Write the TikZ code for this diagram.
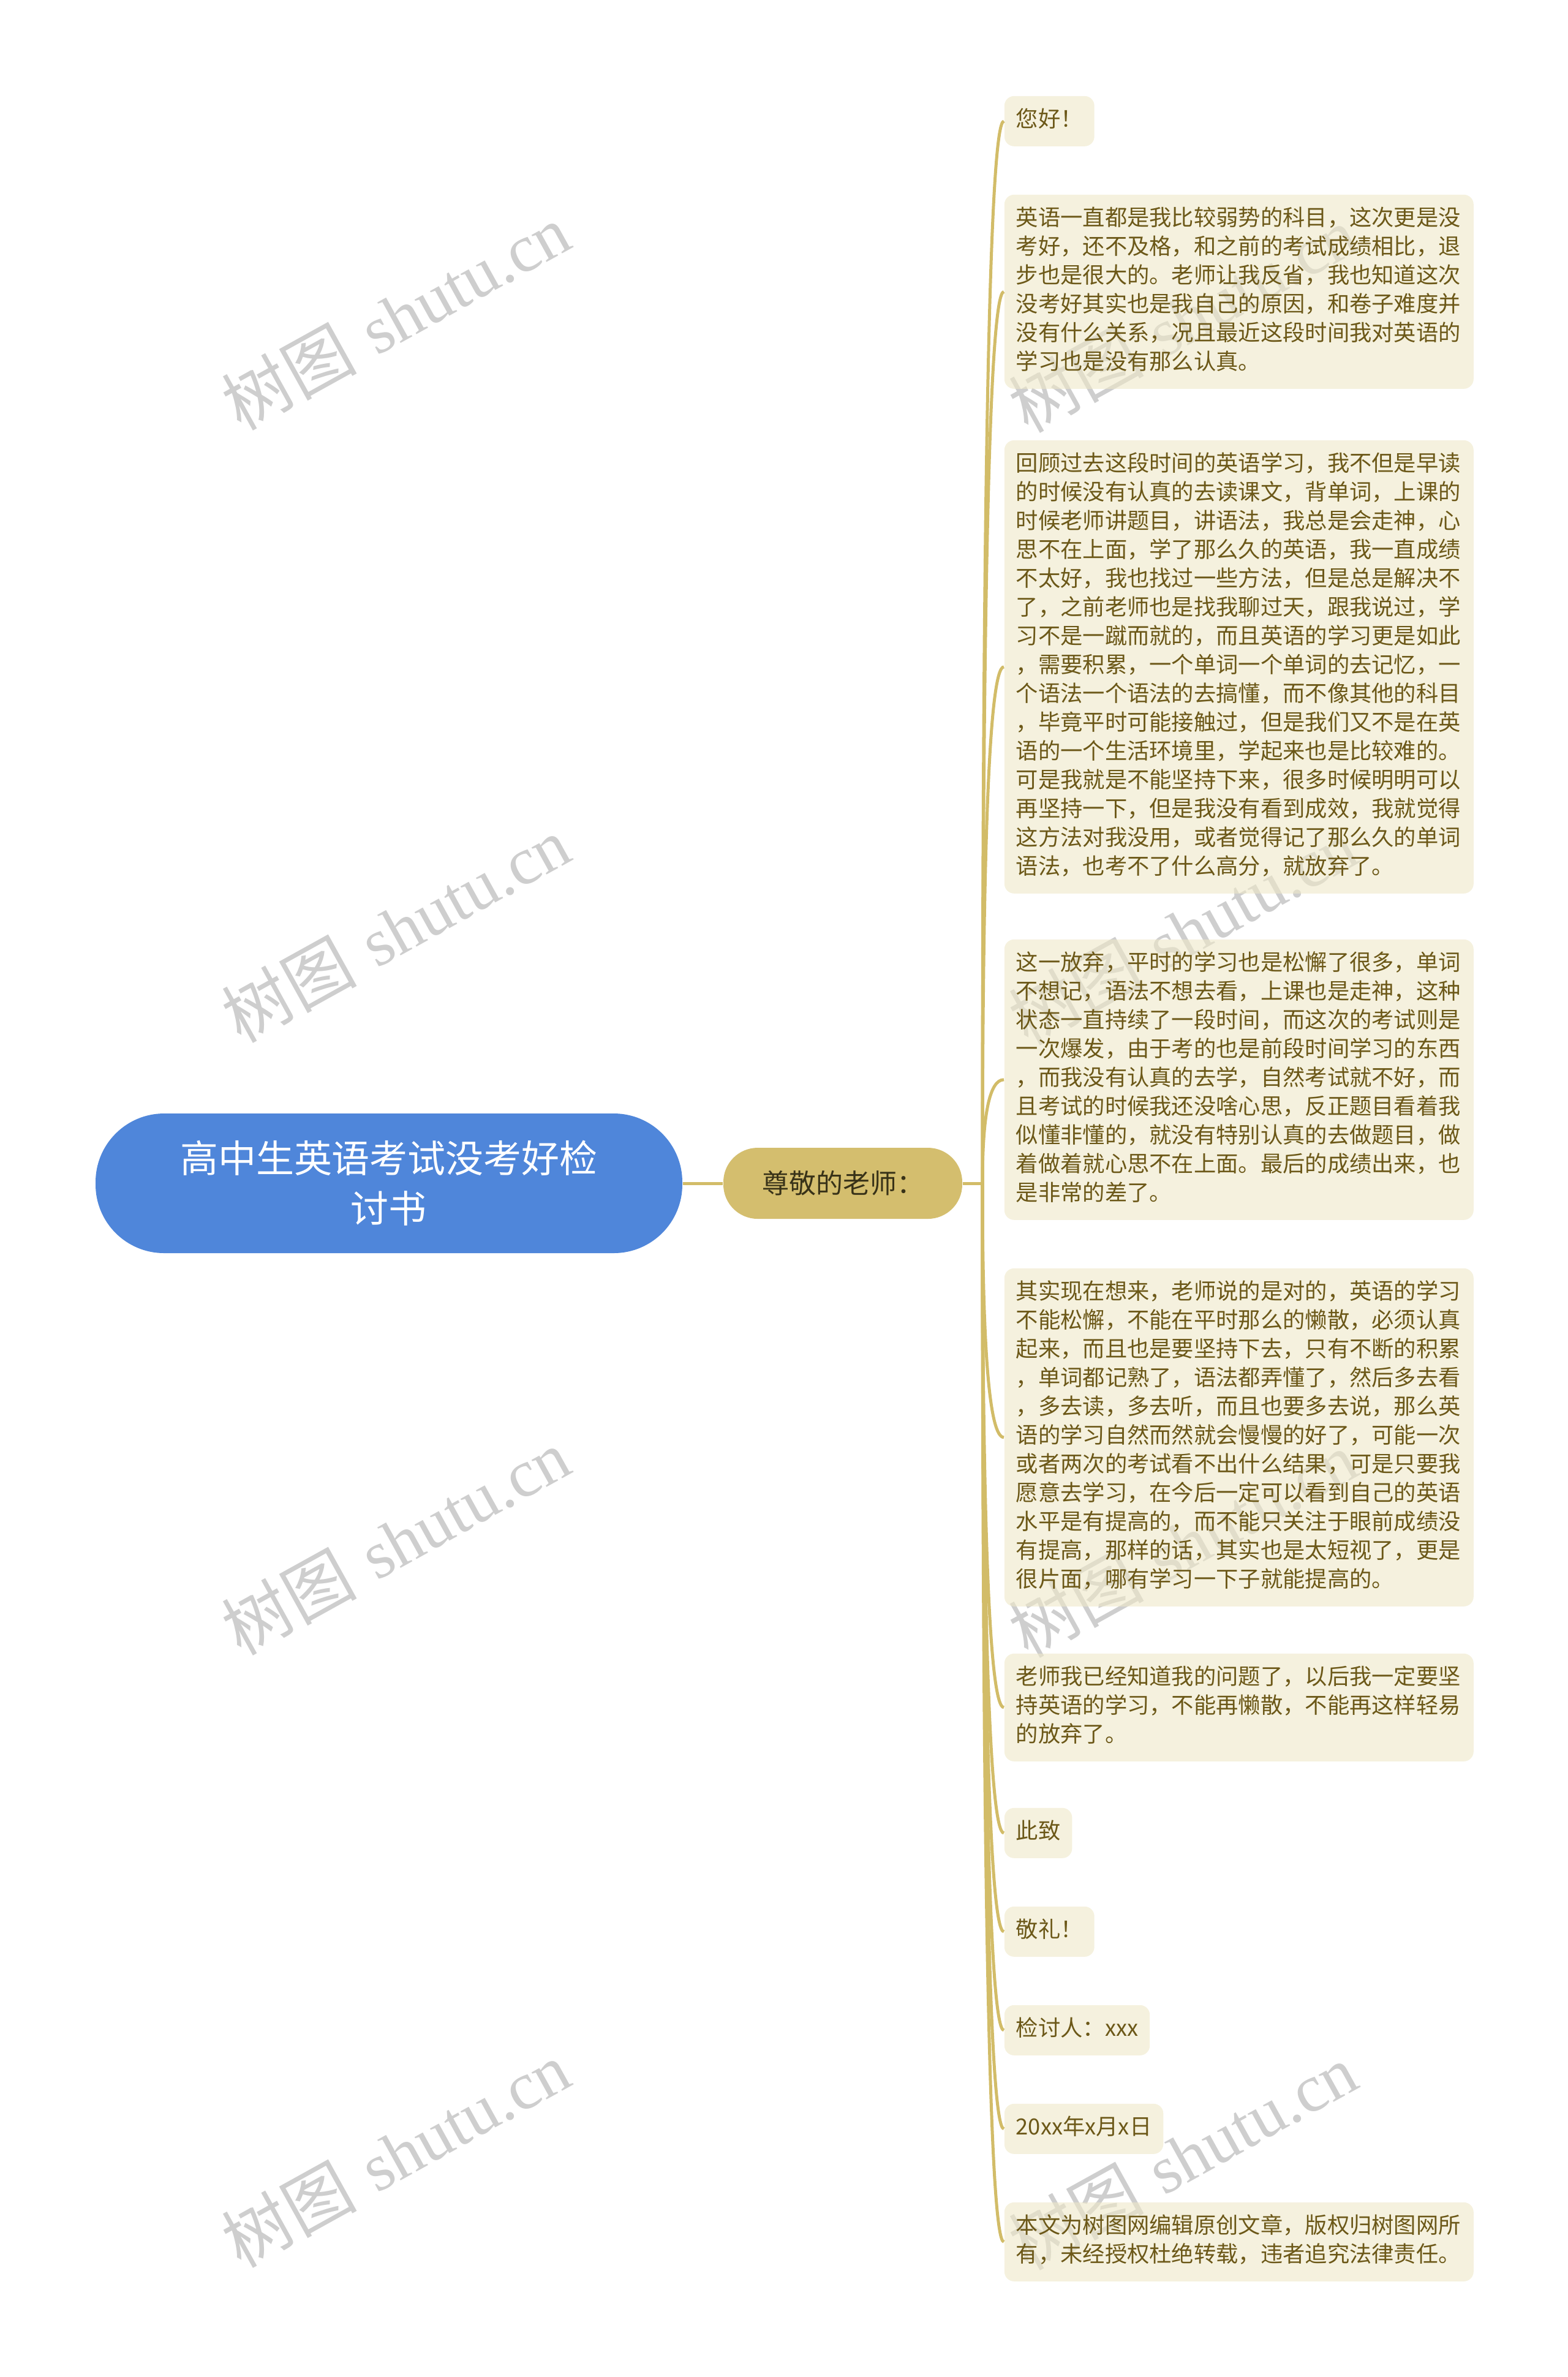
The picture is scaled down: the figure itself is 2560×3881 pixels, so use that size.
\documentclass[tikz,border=0pt]{standalone}
\usepackage{fontspec}
\newfontfamily\cjk{Noto Sans CJK SC}
\newfontfamily\wmlatin{Liberation Serif}
\usetikzlibrary{calc}
\definecolor{rootblue}{RGB}{79,134,218}
\definecolor{gold}{RGB}{212,190,110}
\definecolor{goldline}{RGB}{210,188,104}
\definecolor{leaffill}{RGB}{238,232,200}
\definecolor{leaftext}{RGB}{108,88,24}
\definecolor{branchtext}{RGB}{56,50,24}
\definecolor{wmgray}{RGB}{206,206,206}
\begin{document}
\begin{tikzpicture}[x=0.25pt,y=-0.25pt,
  conn/.style={draw=goldline, line width=1.25pt},
  wm/.style={text=wmgray, inner sep=0pt, rotate=29, font=\fontsize{27.5pt}{30pt}\selectfont},
  rootnode/.style={fill=rootblue, text=white, rounded corners=28pt, minimum width=239.5pt,
    minimum height=57pt, align=center, inner sep=0pt, font=\cjk\fontsize{15.5pt}{20.5pt}\selectfont},
  branchnode/.style={fill=gold, text=branchtext, rounded corners=14pt, minimum width=97.5pt,
    minimum height=29pt, inner sep=0pt, font=\cjk\fontsize{11pt}{13pt}\selectfont},
  leafbox/.style={fill=leaffill, fill opacity=0.6, text opacity=1, rounded corners=4pt,
    inner xsep=4.75pt, inner ysep=4.375pt, anchor=north west, text=leaftext,
    font=\cjk\fontsize{9.075pt}{11.75pt}\selectfont,
    execute at begin node=\strut, execute at end node=\strut},
  wideleaf/.style={leafbox, text width=182pt, align=left}]
\useasboundingbox (0,0) rectangle (2560,3881);
% watermarks
\node[wm] (w1) at (646,517) {{\cjk 树图} {\wmlatin shutu.cn}};
\node[wm] (w2) at (646,1517) {{\cjk 树图} {\wmlatin shutu.cn}};
\node[wm] (w3) at (646,2517) {{\cjk 树图} {\wmlatin shutu.cn}};
\node[wm] (w4) at (646,3517) {{\cjk 树图} {\wmlatin shutu.cn}};
\node[wm] (w5) at (1931,521) {{\cjk 树图} {\wmlatin shutu.cn}};
\node[wm] (w6) at (1931,1521) {{\cjk 树图} {\wmlatin shutu.cn}};
\node[wm] (w7) at (1931,2521) {{\cjk 树图} {\wmlatin shutu.cn}};
\node[wm] (w8) at (1931,3521) {{\cjk 树图} {\wmlatin shutu.cn}};
% nodes
\node[rootnode] (root) at (635,1932) {高中生英语考试没考好检\\讨书};
\node[branchnode] (br) at (1376,1932) {尊敬的老师：};
\coordinate (trunk) at (1604,1932);
\node[leafbox] (l1) at (1639,156) {您好！};
\node[wideleaf] (l2) at (1639,317) {英语一直都是我比较弱势的科目，这次更是没\\考好，还不及格，和之前的考试成绩相比，退\\步也是很大的。老师让我反省，我也知道这次\\没考好其实也是我自己的原因，和卷子难度并\\没有什么关系，况且最近这段时间我对英语的\\学习也是没有那么认真。};
\node[wideleaf] (l3) at (1639,718) {回顾过去这段时间的英语学习，我不但是早读\\的时候没有认真的去读课文，背单词，上课的\\时候老师讲题目，讲语法，我总是会走神，心\\思不在上面，学了那么久的英语，我一直成绩\\不太好，我也找过一些方法，但是总是解决不\\了，之前老师也是找我聊过天，跟我说过，学\\习不是一蹴而就的，而且英语的学习更是如此\\，需要积累，一个单词一个单词的去记忆，一\\个语法一个语法的去搞懂，而不像其他的科目\\，毕竟平时可能接触过，但是我们又不是在英\\语的一个生活环境里，学起来也是比较难的。\\可是我就是不能坚持下来，很多时候明明可以\\再坚持一下，但是我没有看到成效，我就觉得\\这方法对我没用，或者觉得记了那么久的单词\\语法，也考不了什么高分，就放弃了。};
\node[wideleaf] (l4) at (1639,1533) {这一放弃，平时的学习也是松懈了很多，单词\\不想记，语法不想去看，上课也是走神，这种\\状态一直持续了一段时间，而这次的考试则是\\一次爆发，由于考的也是前段时间学习的东西\\，而我没有认真的去学，自然考试就不好，而\\且考试的时候我还没啥心思，反正题目看着我\\似懂非懂的，就没有特别认真的去做题目，做\\着做着就心思不在上面。最后的成绩出来，也\\是非常的差了。};
\node[wideleaf] (l5) at (1639,2070) {其实现在想来，老师说的是对的，英语的学习\\不能松懈，不能在平时那么的懒散，必须认真\\起来，而且也是要坚持下去，只有不断的积累\\，单词都记熟了，语法都弄懂了，然后多去看\\，多去读，多去听，而且也要多去说，那么英\\语的学习自然而然就会慢慢的好了，可能一次\\或者两次的考试看不出什么结果，可是只要我\\愿意去学习，在今后一定可以看到自己的英语\\水平是有提高的，而不能只关注于眼前成绩没\\有提高，那样的话，其实也是太短视了，更是\\很片面，哪有学习一下子就能提高的。};
\node[wideleaf] (l6) at (1639,2699) {老师我已经知道我的问题了，以后我一定要坚\\持英语的学习，不能再懒散，不能再这样轻易\\的放弃了。};
\node[leafbox] (l7) at (1639,2951) {此致};
\node[leafbox] (l8) at (1639,3112) {敬礼！};
\node[leafbox] (l9) at (1639,3273) {检讨人：xxx};
\node[leafbox] (l10) at (1639,3434) {20xx年x月x日};
\node[wideleaf] (l11) at (1639,3595) {本文为树图网编辑原创文章，版权归树图网所\\有，未经授权杜绝转载，违者追究法律责任。};
% connectors
\begin{scope}[on background layer/.style={}]
\draw[conn] (root.east) -- (br.west);
\draw[conn] (br.east) -- (trunk);
\foreach \n in {l1,l2,l3,l4,l5,l6,l7,l8,l9,l10,l11}{
  \draw[conn] (trunk) .. controls ($(trunk)!0.667!(trunk|-\n.west)$) and ($(\n.west)!0.667!(trunk|-\n.west)$) .. (\n.west);
}
\end{scope}
\end{tikzpicture}
\end{document}
